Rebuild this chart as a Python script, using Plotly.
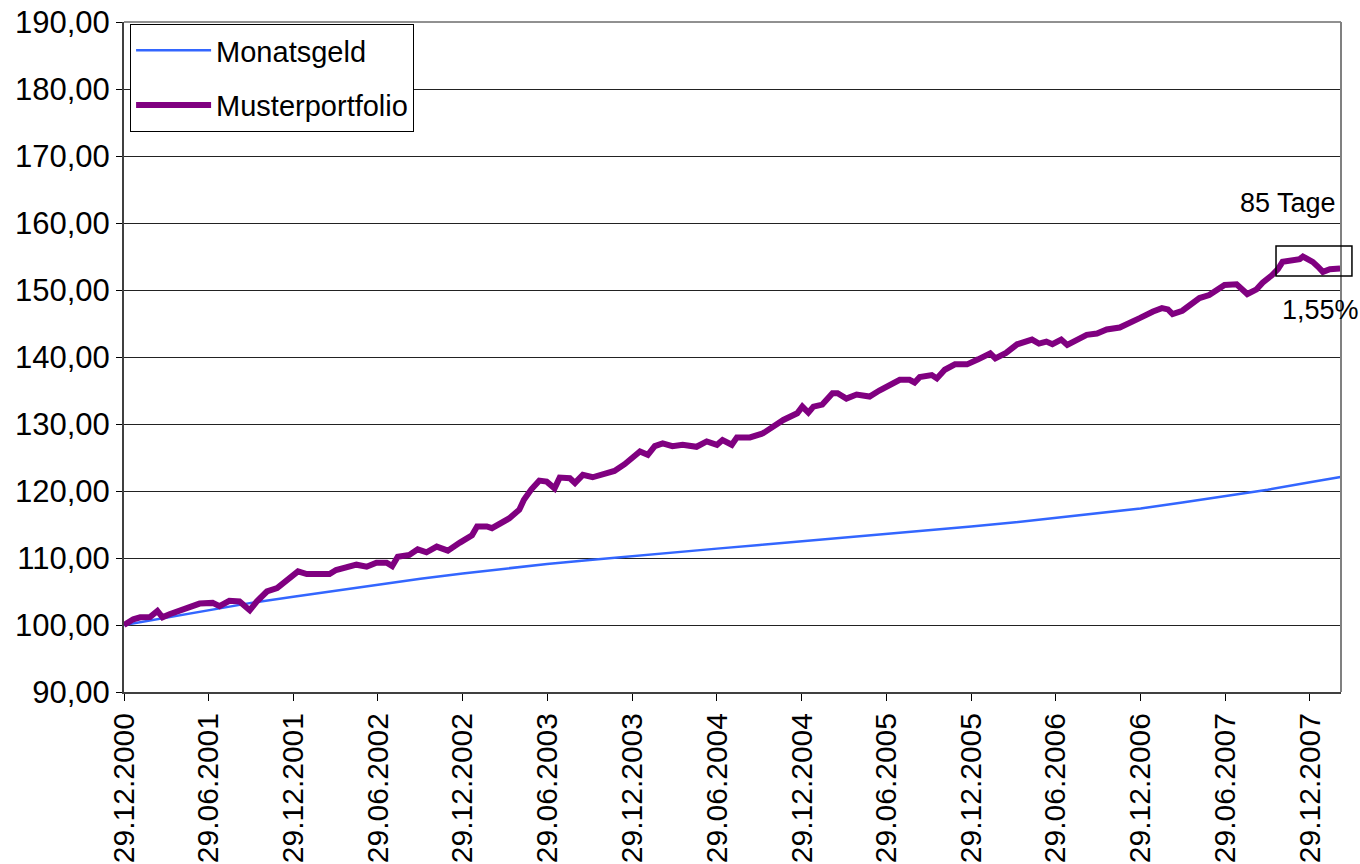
import plotly.graph_objects as go

# ---------------- data ----------------
geld_dates = ["2000-12-29", "2001-03-29", "2001-06-29", "2001-09-29", "2001-12-29",
              "2002-03-29", "2002-06-29", "2002-09-29", "2002-12-29", "2003-03-29",
              "2003-06-29", "2003-09-29", "2003-12-29", "2004-03-29", "2004-06-29",
              "2004-09-29", "2004-12-29", "2005-03-29", "2005-06-29", "2005-09-29",
              "2005-12-29", "2006-03-29", "2006-06-29", "2006-09-29", "2006-12-29",
              "2007-03-29", "2007-06-29", "2007-09-29", "2007-12-29", "2008-03-04"]
geld_values = [100.0, 101.1, 102.2, 103.3, 104.2, 105.1, 106.0, 106.9, 107.7, 108.4,
               109.1, 109.7, 110.3, 110.85, 111.4, 111.95, 112.5, 113.0, 113.5, 114.1,
               114.7, 115.3, 116.0, 116.7, 117.4, 118.3, 119.2, 120.2, 121.3, 122.1]

muster_dates = [
    "2000-12-29", "2001-01-04", "2001-01-18", "2001-02-02", "2001-02-23", "2001-03-11",
    "2001-03-22", "2001-04-06", "2001-04-28", "2001-05-19", "2001-06-10", "2001-07-08",
    "2001-07-23", "2001-08-13", "2001-09-04", "2001-09-19", "2001-09-26", "2001-10-11",
    "2001-11-02", "2001-11-24", "2001-12-15", "2002-01-08", "2002-01-27", "2002-02-25",
    "2002-03-17", "2002-03-31", "2002-04-29", "2002-05-14", "2002-06-05", "2002-06-26",
    "2002-07-18", "2002-07-30", "2002-08-11", "2002-09-05", "2002-09-23", "2002-10-12",
    "2002-11-03", "2002-11-27", "2002-12-23", "2003-01-07", "2003-01-18", "2003-01-29",
    "2003-02-19", "2003-03-02", "2003-03-17", "2003-04-08", "2003-04-30", "2003-05-10",
    "2003-05-26", "2003-06-12", "2003-06-28", "2003-07-15", "2003-07-26", "2003-08-17",
    "2003-08-28", "2003-09-14", "2003-10-05", "2003-10-27", "2003-11-21", "2003-12-13",
    "2004-01-04", "2004-01-15", "2004-02-01", "2004-02-16", "2004-03-04", "2004-03-25",
    "2004-04-16", "2004-05-16", "2004-06-07", "2004-06-29", "2004-07-11", "2004-07-31",
    "2004-08-11", "2004-09-08", "2004-10-06", "2004-10-28", "2004-11-19", "2004-12-19",
    "2004-12-30", "2005-01-12", "2005-01-23", "2005-02-11", "2005-03-05", "2005-03-16",
    "2005-04-04", "2005-04-26", "2005-05-24", "2005-06-14", "2005-07-06", "2005-07-28",
    "2005-08-18", "2005-08-29", "2005-09-09", "2005-10-05", "2005-10-16", "2005-11-02",
    "2005-11-24", "2005-12-20", "2006-01-13", "2006-02-08", "2006-02-19", "2006-03-14",
    "2006-04-07", "2006-05-09", "2006-05-24", "2006-06-09", "2006-06-22", "2006-07-11",
    "2006-07-24", "2006-08-13", "2006-09-04", "2006-09-26", "2006-10-17", "2006-11-14",
    "2006-12-06", "2006-12-27", "2007-01-25", "2007-02-13", "2007-02-26", "2007-03-08",
    "2007-03-29", "2007-04-17", "2007-05-05", "2007-05-26", "2007-06-13", "2007-06-28",
    "2007-07-24", "2007-08-06", "2007-08-16", "2007-09-05", "2007-09-18", "2007-10-08",
    "2007-10-21", "2007-10-31", "2007-11-20", "2007-12-07", "2007-12-14", "2007-12-24",
    "2008-01-04", "2008-01-15", "2008-01-26", "2008-02-10", "2008-03-03"]
muster_values = [
    100.0, 100.3, 100.85, 101.15, 101.2, 102.1,
    101.15, 101.6, 102.2, 102.8, 103.2, 103.3,
    102.8, 103.6, 103.5, 102.6, 102.2, 103.5,
    105.0, 105.5, 106.8, 108.0, 107.6, 107.55,
    107.6, 108.2, 108.7, 109.0, 108.7, 109.3,
    109.3, 108.8, 110.2, 110.45, 111.3, 110.85,
    111.7, 111.1, 112.3, 112.8, 113.4, 114.7,
    114.7, 114.45, 115.1, 115.9, 117.2, 118.7,
    120.25, 121.55, 121.4, 120.4, 122.0, 121.9,
    121.2, 122.4, 122.05, 122.5, 123.0, 124.0,
    125.1, 125.9, 125.4, 126.7, 127.1, 126.7,
    126.9, 126.6, 127.4, 126.9, 127.6, 126.9,
    128.0, 128.0, 128.6, 129.6, 130.6, 131.6,
    132.6, 131.7, 132.6, 132.9, 134.6, 134.6,
    133.8, 134.4, 134.1, 135.0, 135.8, 136.6,
    136.6, 136.2, 137.0, 137.3, 136.8, 138.1,
    138.9, 138.9, 139.65, 140.55, 139.8, 140.6,
    141.9, 142.6, 142.0, 142.3, 141.9, 142.6,
    141.8, 142.6, 143.3, 143.5, 144.1, 144.4,
    145.0, 145.8, 146.8, 147.3, 147.1, 146.4,
    146.9, 148.0, 148.8, 149.25, 150.1, 150.75,
    150.85, 150.1, 149.4, 150.1, 151.1, 152.2,
    153.1, 154.2, 154.4, 154.6, 155.0, 154.7,
    154.2, 153.5, 152.7, 153.1, 153.2]

tick_dates = ["2000-12-29", "2001-06-29", "2001-12-29", "2002-06-29", "2002-12-29",
              "2003-06-29", "2003-12-29", "2004-06-29", "2004-12-29", "2005-06-29",
              "2005-12-29", "2006-06-29", "2006-12-29", "2007-06-29", "2007-12-29"]
tick_labels = ["29.12.2000", "29.06.2001", "29.12.2001", "29.06.2002", "29.12.2002",
               "29.06.2003", "29.12.2003", "29.06.2004", "29.12.2004", "29.06.2005",
               "29.12.2005", "29.06.2006", "29.12.2006", "29.06.2007", "29.12.2007"]

FONT = "Liberation Sans, Arial, sans-serif"

fig = go.Figure()
fig.add_trace(go.Scatter(x=geld_dates, y=geld_values, mode="lines", name="Monatsgeld",
                         legendgroup="a",
                         line=dict(color="#3366ff", width=2.5)))
fig.add_trace(go.Scatter(x=muster_dates, y=muster_values, mode="lines", name="Musterportfolio",
                         legendgroup="b",
                         line=dict(color="#800080", width=6)))

fig.update_layout(
    width=1360, height=864,
    margin=dict(l=124, r=19, t=22, b=172, autoexpand=False),
    paper_bgcolor="white", plot_bgcolor="white",
    separators=",.",
    font=dict(family=FONT, size=30, color="black"),
    showlegend=True,
    legend=dict(x=0.005, y=0.997, xanchor="left", yanchor="top",
                bgcolor="white", bordercolor="black", borderwidth=1,
                font=dict(size=29), tracegroupgap=14, traceorder="grouped",
                itemwidth=75),
    xaxis=dict(type="date", range=["2000-12-29", "2008-03-05"],
               tickmode="array", tickvals=tick_dates, ticktext=tick_labels,
               tickangle=-90, ticks="outside", ticklen=7, tickcolor="black",
               showgrid=False, showline=True, linecolor="#404040", linewidth=2,
               tickfont=dict(size=30)),
    yaxis=dict(range=[90, 190], dtick=10, tick0=90, tickformat=".2f",
               ticks="outside", ticklen=6, tickcolor="black",
               showgrid=True, gridcolor="#222222", gridwidth=1,
               showline=True, linecolor="#404040", linewidth=2,
               zeroline=False, tickfont=dict(size=31)),
)

# top edge (190 grid line) and right border of plot area
fig.add_shape(type="line", xref="paper", yref="paper", x0=0, x1=1, y0=1, y1=1,
              line=dict(color="#222222", width=1), layer="below")
fig.add_shape(type="line", xref="paper", yref="paper", x0=1, x1=1, y0=0, y1=1,
              line=dict(color="#808080", width=2))
# highlight box (drawdown period)
fig.add_shape(type="rect", xref="paper", yref="paper",
              x0=0.9466, x1=1.009, y0=0.6209, y1=0.6657,
              line=dict(color="black", width=1.5))

fig.add_annotation(xref="paper", yref="paper", x=0.9975, y=0.730, xanchor="right",
                   yanchor="middle", text="85 Tage", showarrow=False,
                   font=dict(size=27, color="black", family=FONT))
fig.add_annotation(xref="paper", yref="paper", x=1.0165, y=0.570, xanchor="right",
                   yanchor="middle", text="1,55%", showarrow=False,
                   font=dict(size=27, color="black", family=FONT))

fig.write_html("out.html", config={"displayModeBar": False},
               post_script="document.body.style.margin='0';")
